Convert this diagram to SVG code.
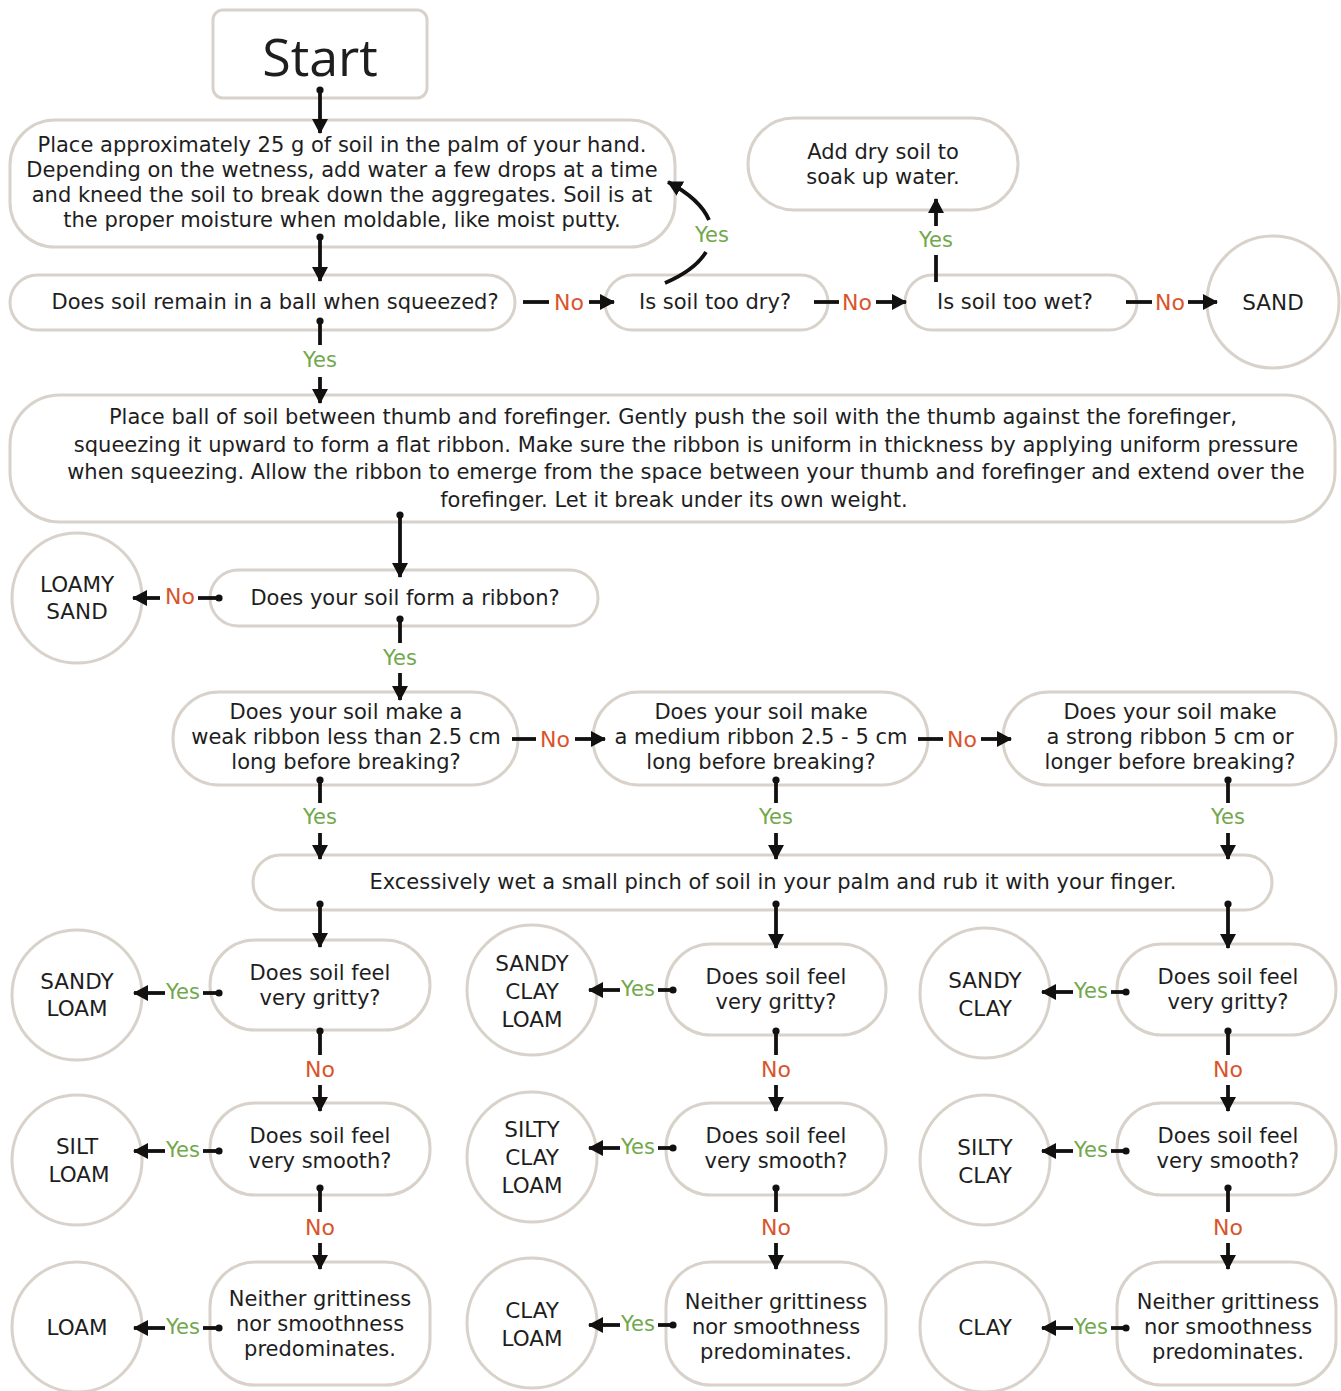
<svg xmlns="http://www.w3.org/2000/svg" width="1341" height="1391" viewBox="0 0 1341 1391">
<defs>
<marker id="ah" markerUnits="userSpaceOnUse" markerWidth="18" markerHeight="18" refX="14" refY="8" orient="auto">
<path d="M0,0 L15,8 L0,16 z" fill="#111"/>
</marker>
<marker id="dot" markerUnits="userSpaceOnUse" markerWidth="10" markerHeight="10" refX="5" refY="5">
<circle cx="5" cy="5" r="3.6" fill="#111"/>
</marker>
<style>
.n{fill:#fff;stroke:#d9d2cb;stroke-width:3}
.t{font-family:"DejaVu Sans","Liberation Sans",sans-serif;font-size:21px;fill:#1e1e1e;text-anchor:middle;dominant-baseline:central}
.r{font-size:21.5px}
.c{stroke:#111;stroke-width:3.8;fill:none;stroke-linecap:butt}
.a{marker-end:url(#ah)}
.d{marker-start:url(#dot)}
.no{font-family:"DejaVu Sans","Liberation Sans",sans-serif;font-size:22px;fill:#d9542b;text-anchor:middle;dominant-baseline:central}
.yes{font-family:"DejaVu Sans","Liberation Sans",sans-serif;font-size:21px;fill:#72a84c;text-anchor:middle;dominant-baseline:central}
</style>
</defs>
<rect width="1341" height="1391" fill="#fff"/>

<g id="start"><rect class="n" x="213" y="10" width="214" height="88" rx="10"/><text class="t" x="320" y="55" style="font-family:'Open Sans','Liberation Sans',sans-serif;font-size:52px">Start</text></g>

<g id="place"><rect class="n" x="10" y="120" width="665" height="127" rx="45"/>
<text class="t" x="342" y="145">Place approximately 25 g of soil in the palm of your hand.</text>
<text class="t" x="342" y="170">Depending on the wetness, add water a few drops at a time</text>
<text class="t" x="342" y="195">and kneed the soil to break down the aggregates. Soil is at</text>
<text class="t" x="342" y="220">the proper moisture when moldable, like moist putty.</text></g>

<g id="adddry"><rect class="n" x="748" y="118" width="270" height="92" rx="46"/>
<text class="t" x="883" y="152">Add dry soil to</text><text class="t" x="883" y="177">soak up water.</text></g>

<g id="ball"><rect class="n" x="10" y="275" width="505" height="55" rx="27.5"/><text class="t" x="275" y="302">Does soil remain in a ball when squeezed?</text></g>
<g id="dry"><rect class="n" x="605" y="275" width="223" height="55" rx="27.5"/><text class="t" x="715" y="302">Is soil too dry?</text></g>
<g id="wet"><rect class="n" x="905" y="275" width="232" height="55" rx="27.5"/><text class="t" x="1015" y="302">Is soil too wet?</text></g>
<g id="sand"><circle class="n" cx="1273" cy="302" r="66"/><text class="t r" x="1273" y="302">SAND</text></g>

<g id="ribbonbox"><rect class="n" x="10" y="395" width="1325" height="127" rx="50"/>
<text class="t" x="673" y="417">Place ball of soil between thumb and forefinger. Gently push the soil with the thumb against the forefinger,</text>
<text class="t" x="686" y="445">squeezing it upward to form a flat ribbon. Make sure the ribbon is uniform in thickness by applying uniform pressure</text>
<text class="t" x="686" y="472">when squeezing. Allow the ribbon to emerge from the space between your thumb and forefinger and extend over the</text>
<text class="t" x="674" y="500">forefinger. Let it break under its own weight.</text></g>

<g id="loamysand"><circle class="n" cx="77" cy="598" r="65"/><text class="t r" x="77" y="584">LOAMY</text><text class="t r" x="77" y="611">SAND</text></g>
<g id="formribbon"><rect class="n" x="210" y="570" width="388" height="56" rx="28"/><text class="t" x="405" y="598">Does your soil form a ribbon?</text></g>

<g id="weak"><rect class="n" x="173" y="692" width="345" height="93" rx="46"/>
<text class="t" x="346" y="712">Does your soil make a</text><text class="t" x="346" y="737">weak ribbon less than 2.5 cm</text><text class="t" x="346" y="762">long before breaking?</text></g>
<g id="medium"><rect class="n" x="593" y="692" width="335" height="93" rx="46"/>
<text class="t" x="761" y="712">Does your soil make</text><text class="t" x="761" y="737">a medium ribbon 2.5 - 5 cm</text><text class="t" x="761" y="762">long before breaking?</text></g>
<g id="strong"><rect class="n" x="1003" y="692" width="333" height="93" rx="46"/>
<text class="t" x="1170" y="712">Does your soil make</text><text class="t" x="1170" y="737">a strong ribbon 5 cm or</text><text class="t" x="1170" y="762">longer before breaking?</text></g>

<g id="wetpinch"><rect class="n" x="253" y="855" width="1019" height="55" rx="27.5"/><text class="t" x="773" y="882">Excessively wet a small pinch of soil in your palm and rub it with your finger.</text></g>

<g id="g1"><rect class="n" x="210" y="940" width="220" height="90" rx="45"/><text class="t" x="320" y="973">Does soil feel</text><text class="t" x="320" y="998">very gritty?</text></g>
<g id="s1"><rect class="n" x="210" y="1103" width="220" height="92" rx="45"/><text class="t" x="320" y="1136">Does soil feel</text><text class="t" x="320" y="1161">very smooth?</text></g>
<g id="n1"><rect class="n" x="210" y="1262" width="220" height="123" rx="45"/><text class="t" x="320" y="1299">Neither grittiness</text><text class="t" x="320" y="1324">nor smoothness</text><text class="t" x="320" y="1349">predominates.</text></g>
<g id="sandyloam"><circle class="n" cx="77" cy="995" r="65"/><text class="t r" x="77" y="981">SANDY</text><text class="t r" x="77" y="1008">LOAM</text></g>
<g id="siltloam"><circle class="n" cx="77" cy="1160" r="65"/><text class="t r" x="77" y="1146">SILT</text><text class="t r" x="79" y="1174">LOAM</text></g>
<g id="loam"><circle class="n" cx="77" cy="1327" r="65"/><text class="t r" x="77" y="1327">LOAM</text></g>

<g id="g2"><rect class="n" x="666" y="944" width="220" height="91" rx="45"/><text class="t" x="776" y="977">Does soil feel</text><text class="t" x="776" y="1002">very gritty?</text></g>
<g id="s2"><rect class="n" x="666" y="1103" width="220" height="92" rx="45"/><text class="t" x="776" y="1136">Does soil feel</text><text class="t" x="776" y="1161">very smooth?</text></g>
<g id="n2"><rect class="n" x="666" y="1262" width="220" height="123" rx="45"/><text class="t" x="776" y="1302">Neither grittiness</text><text class="t" x="776" y="1327">nor smoothness</text><text class="t" x="776" y="1352">predominates.</text></g>
<g id="sandyclayloam"><circle class="n" cx="532" cy="990" r="65"/><text class="t r" x="532" y="963">SANDY</text><text class="t r" x="532" y="991">CLAY</text><text class="t r" x="532" y="1019">LOAM</text></g>
<g id="siltyclayloam"><circle class="n" cx="532" cy="1157" r="65"/><text class="t r" x="532" y="1129">SILTY</text><text class="t r" x="532" y="1157">CLAY</text><text class="t r" x="532" y="1185">LOAM</text></g>
<g id="clayloam"><circle class="n" cx="532" cy="1323" r="65"/><text class="t r" x="532" y="1310">CLAY</text><text class="t r" x="532" y="1338">LOAM</text></g>

<g id="g3"><rect class="n" x="1117" y="944" width="219" height="91" rx="45"/><text class="t" x="1228" y="977">Does soil feel</text><text class="t" x="1228" y="1002">very gritty?</text></g>
<g id="s3"><rect class="n" x="1117" y="1103" width="219" height="92" rx="45"/><text class="t" x="1228" y="1136">Does soil feel</text><text class="t" x="1228" y="1161">very smooth?</text></g>
<g id="n3"><rect class="n" x="1117" y="1262" width="219" height="123" rx="45"/><text class="t" x="1228" y="1302">Neither grittiness</text><text class="t" x="1228" y="1327">nor smoothness</text><text class="t" x="1228" y="1352">predominates.</text></g>
<g id="sandyclay"><circle class="n" cx="985" cy="993" r="65"/><text class="t r" x="985" y="980">SANDY</text><text class="t r" x="985" y="1008">CLAY</text></g>
<g id="siltyclay"><circle class="n" cx="985" cy="1160" r="65"/><text class="t r" x="985" y="1147">SILTY</text><text class="t r" x="985" y="1175">CLAY</text></g>
<g id="clay"><circle class="n" cx="985" cy="1327" r="65"/><text class="t r" x="985" y="1327">CLAY</text></g>

<g id="connectors">
<line class="c d a" x1="320" y1="90" x2="320" y2="133"/>
<line class="c d a" x1="320" y1="237" x2="320" y2="281"/>
<line class="c" x1="523" y1="302" x2="549" y2="302"/><text class="no" x="569" y="302">No</text>
<line class="c a" x1="589" y1="302" x2="614" y2="302"/>
<line class="c" x1="814" y1="302" x2="839" y2="302"/><text class="no" x="857" y="302">No</text>
<line class="c a" x1="876" y1="302" x2="906" y2="302"/>
<line class="c" x1="1126" y1="302" x2="1152" y2="302"/><text class="no" x="1170" y="302">No</text>
<line class="c a" x1="1188" y1="302" x2="1217" y2="302"/>
<path class="c" d="M665,283 Q695,270 706,252"/><text class="yes" x="712" y="235">Yes</text>
<path class="c a" d="M709,220 Q700,199 668,182"/>
<line class="c" x1="936" y1="282" x2="936" y2="255"/><text class="yes" x="936" y="240">Yes</text>
<line class="c a" x1="936" y1="226" x2="936" y2="199"/>
<line class="c d" x1="320" y1="321" x2="320" y2="345"/><text class="yes" x="320" y="360">Yes</text>
<line class="c a" x1="320" y1="377" x2="320" y2="403"/>
<line class="c d a" x1="400" y1="515" x2="400" y2="577"/>
<line class="c d" x1="219" y1="598" x2="198" y2="598"/><text class="no" x="180" y="596">No</text>
<line class="c a" x1="160" y1="598" x2="133" y2="598"/>
<line class="c d" x1="400" y1="619" x2="400" y2="643"/><text class="yes" x="400" y="658">Yes</text>
<line class="c a" x1="400" y1="673" x2="400" y2="700"/>
<line class="c" x1="512" y1="739" x2="536" y2="739"/><text class="no" x="555" y="739">No</text>
<line class="c a" x1="575" y1="739" x2="605" y2="739"/>
<line class="c" x1="918" y1="739" x2="943" y2="739"/><text class="no" x="962" y="739">No</text>
<line class="c a" x1="981" y1="739" x2="1011" y2="739"/>
<line class="c d" x1="320" y1="780" x2="320" y2="803"/><text class="yes" x="320" y="817">Yes</text>
<line class="c a" x1="320" y1="833" x2="320" y2="859"/>
<line class="c d" x1="776" y1="780" x2="776" y2="803"/><text class="yes" x="776" y="817">Yes</text>
<line class="c a" x1="776" y1="833" x2="776" y2="859"/>
<line class="c d" x1="1228" y1="780" x2="1228" y2="803"/><text class="yes" x="1228" y="817">Yes</text>
<line class="c a" x1="1228" y1="833" x2="1228" y2="859"/>
<line class="c d a" x1="320" y1="904" x2="320" y2="947"/>
<line class="c d a" x1="776" y1="904" x2="776" y2="948"/>
<line class="c d a" x1="1228" y1="904" x2="1228" y2="948"/>
<line class="c d" x1="219" y1="993" x2="203" y2="993"/><text class="yes" x="183" y="992">Yes</text>
<line class="c a" x1="165" y1="993" x2="134" y2="993"/>
<line class="c d" x1="320" y1="1031" x2="320" y2="1055"/><text class="no" x="320" y="1069">No</text>
<line class="c a" x1="320" y1="1085" x2="320" y2="1111"/>
<line class="c d" x1="219" y1="1151" x2="203" y2="1151"/><text class="yes" x="183" y="1150">Yes</text>
<line class="c a" x1="165" y1="1151" x2="134" y2="1151"/>
<line class="c d" x1="320" y1="1188" x2="320" y2="1212"/><text class="no" x="320" y="1227">No</text>
<line class="c a" x1="320" y1="1243" x2="320" y2="1269"/>
<line class="c d" x1="219" y1="1328" x2="203" y2="1328"/><text class="yes" x="183" y="1327">Yes</text>
<line class="c a" x1="165" y1="1328" x2="134" y2="1328"/>
<line class="c d" x1="673" y1="990" x2="658" y2="990"/><text class="yes" x="638" y="989">Yes</text>
<line class="c a" x1="620" y1="990" x2="589" y2="990"/>
<line class="c d" x1="776" y1="1031" x2="776" y2="1055"/><text class="no" x="776" y="1069">No</text>
<line class="c a" x1="776" y1="1085" x2="776" y2="1111"/>
<line class="c d" x1="673" y1="1148" x2="658" y2="1148"/><text class="yes" x="638" y="1147">Yes</text>
<line class="c a" x1="620" y1="1148" x2="589" y2="1148"/>
<line class="c d" x1="776" y1="1188" x2="776" y2="1212"/><text class="no" x="776" y="1227">No</text>
<line class="c a" x1="776" y1="1243" x2="776" y2="1269"/>
<line class="c d" x1="673" y1="1325" x2="658" y2="1325"/><text class="yes" x="638" y="1324">Yes</text>
<line class="c a" x1="620" y1="1325" x2="589" y2="1325"/>
<line class="c d" x1="1126" y1="992" x2="1111" y2="992"/><text class="yes" x="1091" y="991">Yes</text>
<line class="c a" x1="1073" y1="992" x2="1042" y2="992"/>
<line class="c d" x1="1228" y1="1031" x2="1228" y2="1055"/><text class="no" x="1228" y="1069">No</text>
<line class="c a" x1="1228" y1="1085" x2="1228" y2="1111"/>
<line class="c d" x1="1126" y1="1151" x2="1111" y2="1151"/><text class="yes" x="1091" y="1150">Yes</text>
<line class="c a" x1="1073" y1="1151" x2="1042" y2="1151"/>
<line class="c d" x1="1228" y1="1188" x2="1228" y2="1212"/><text class="no" x="1228" y="1227">No</text>
<line class="c a" x1="1228" y1="1243" x2="1228" y2="1269"/>
<line class="c d" x1="1126" y1="1328" x2="1111" y2="1328"/><text class="yes" x="1091" y="1327">Yes</text>
<line class="c a" x1="1073" y1="1328" x2="1042" y2="1328"/>
</g>
</svg>
